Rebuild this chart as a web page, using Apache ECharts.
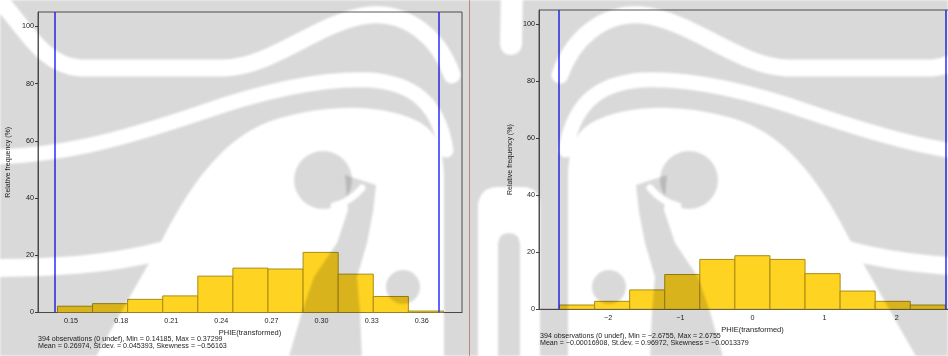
<!DOCTYPE html>
<html>
<head>
<meta charset="utf-8">
<script src="https://cdn.jsdelivr.net/npm/echarts@6/dist/echarts.min.js"></script>
<style>
  html, body { margin: 0; padding: 0; background: #ffffff; }
  #chart { width: 948px; height: 356px; }
</style>
</head>
<body>
<div id="chart"></div>
<script>
// Relative frequency (%) of each of the 11 histogram classes
const leftFreq = [2.2, 3.1, 4.6, 5.8, 12.7, 15.5, 15.2, 21.0, 13.4, 5.6, 0.5];
const rightFreq = [1.5, 2.8, 6.8, 12.2, 17.5, 18.8, 17.5, 12.5, 6.4, 2.8, 1.5];

// Summary statistics of the two variables
const leftMin = 0.14185, leftMax = 0.37299;
const rightMin = -2.6755, rightMax = 2.6755;

// Tick positions and labels
const leftTicks = [0.15, 0.18, 0.21, 0.24, 0.27, 0.30, 0.33, 0.36];
const leftTickLabels = ['0.15', '0.18', '0.21', '0.24', '0.27', '0.30', '0.33', '0.36'];
const rightTicks = [-2, -1, 0, 1, 2];
const rightTickLabels = ['\u22122', '\u22121', '0', '1', '2'];
const yTicks = [0, 20, 40, 60, 80, 100];

const leftStats = [
  '394 observations (0 undef), Min = 0.14185, Max = 0.37299',
  'Mean = 0.26974, St.dev. = 0.045393, Skewness = \u22120.56163'
];
const rightStats = [
  '394 observations (0 undef), Min = \u22122.6755, Max = 2.6755',
  'Mean = \u22120.00016908, St.dev. = 0.96972, Skewness = \u22120.0013379'
];

const xName = 'PHIE(transformed)';
const yName = 'Relative frequency (%)';

// Histogram classes: equal-width bins between the observed min and max
function bins(freq, lo, hi) {
  const w = (hi - lo) / freq.length;
  return freq.map((f, i) => [lo + i * w, lo + (i + 1) * w, f]);
}

const FONT = 'Liberation Sans, Arial, sans-serif';
const TEXT = '#1e1e1e';
const SHADE = 'rgba(0,0,0,0.15)';

// Symmetric background emblem, painted once into an offscreen canvas
function emblem() {
  const c = document.createElement('canvas');
  c.width = 948; c.height = 356;
  const g = c.getContext('2d');
  g.fillStyle = SHADE;
  g.fillRect(0, 0, 948, 356);
  g.lineCap = 'round';
  g.lineJoin = 'round';

  const stroke = (w, f) => { g.lineWidth = w; g.beginPath(); f(); g.stroke(); };
  const fill = (f) => { g.beginPath(); f(); g.closePath(); g.fill(); };
  const cut = () => { g.globalCompositeOperation = 'destination-out'; g.strokeStyle = '#000'; g.fillStyle = '#000'; };
  const shade = () => { g.globalCompositeOperation = 'source-over'; g.fillStyle = SHADE; };

  // one wing of the emblem; the other wing is its mirror image
  function wing() {
    cut();
    stroke(17, () => { g.moveTo(-8, -8); g.bezierCurveTo(25, 25, 40, 65, 80, 68); g.lineTo(225, 68);
      g.bezierCurveTo(275, 66, 320, 20, 370, 15); g.bezierCurveTo(410, 12, 440, 40, 452, 75); });
    stroke(15, () => { g.moveTo(-10, 157); g.bezierCurveTo(60, 156, 120, 140, 200, 113);
      g.bezierCurveTo(260, 92, 320, 78, 370, 80); g.bezierCurveTo(410, 83, 438, 100, 446, 150); });
    stroke(18, () => { g.moveTo(-10, 268); g.bezierCurveTo(50, 268, 110, 265, 165, 250); });
    fill(() => { g.moveTo(94, 360); g.lineTo(162, 240); g.bezierCurveTo(195, 175, 230, 132, 280, 118);
      g.bezierCurveTo(330, 104, 380, 104, 415, 120); g.bezierCurveTo(438, 130, 443, 150, 444, 175); g.lineTo(444, 360); });
    shade();
    fill(() => { g.arc(323, 180, 29, 0, Math.PI * 2); });
    fill(() => { g.moveTo(345, 175); g.lineTo(376, 185); g.lineTo(373, 212); g.lineTo(367, 243);
      g.lineTo(357, 277); g.lineTo(360, 312); g.lineTo(362, 360); g.lineTo(288, 360);
      g.lineTo(302, 312); g.lineTo(314, 277); g.lineTo(337, 243); g.lineTo(348, 210); });
    fill(() => { g.arc(403, 287, 17, 0, Math.PI * 2); });
    cut();
    stroke(7, () => { g.moveTo(334, 206); g.quadraticCurveTo(350, 202, 362, 188); });
  }

  g.save(); g.beginPath(); g.rect(0, 0, 474, 356); g.clip(); wing(); g.restore();
  g.save(); g.beginPath(); g.rect(540, 0, 408, 356); g.clip(); g.setTransform(-1, 0, 0, 1, 1012, 0); wing(); g.restore();

  // central column
  g.save(); g.beginPath(); g.rect(474, 0, 66, 356); g.clip();
  cut();
  stroke(22, () => { g.moveTo(512, -10); g.lineTo(511, 44); });
  fill(() => { g.moveTo(478, 360); g.lineTo(478, 205); g.quadraticCurveTo(480, 187, 498, 187);
    g.lineTo(522, 187); g.quadraticCurveTo(540, 187, 540, 205); g.lineTo(540, 360); });
  shade();
  fill(() => { g.moveTo(498, 360); g.lineTo(498, 244); g.quadraticCurveTo(499, 233, 509, 233);
    g.quadraticCurveTo(519, 233, 520, 244); g.lineTo(520, 360); });
  g.restore();

  const out = document.createElement('canvas');
  out.width = 948; out.height = 356;
  const o = out.getContext('2d');
  o.filter = 'blur(1.2px)';
  o.drawImage(c, 0, 0);
  return out;
}

function histSeries(idx, freq, lo, hi) {
  return {
    type: 'custom',
    xAxisIndex: idx, yAxisIndex: idx,
    clip: true,
    data: bins(freq, lo, hi),
    renderItem: (params, api) => {
      const a = api.coord([api.value(0), api.value(2)]);
      const b = api.coord([api.value(1), 0]);
      return {
        type: 'rect',
        shape: { x: a[0], y: a[1], width: b[0] - a[0], height: b[1] - a[1] },
        style: { fill: '#ffd322', stroke: '#a98c12', lineWidth: 1 }
      };
    },
    markLine: {
      silent: true, symbol: 'none', animation: false,
      label: { show: false },
      lineStyle: { color: '#3a3aff', width: 1.6, type: 'solid' },
      data: [{ xAxis: lo }, { xAxis: hi }]
    },
    animation: false
  };
}

function yAxis(idx, gap) {
  return {
    type: 'value', gridIndex: idx, min: 0, max: 105,
    name: yName, nameLocation: 'middle', nameGap: gap, nameRotate: 90,
    nameTextStyle: { fontFamily: FONT, fontSize: 7, color: TEXT },
    axisLine: { show: true, onZero: false, lineStyle: { color: '#555', width: 1 } },
    axisTick: { show: true, length: 3, customValues: yTicks, lineStyle: { color: '#444' } },
    axisLabel: { customValues: yTicks, fontFamily: FONT, fontSize: 7.2, color: TEXT, margin: 4 },
    splitLine: { show: false }
  };
}

function xAxis(idx, lo, hi, ticks, labels, gap) {
  return {
    type: 'value', gridIndex: idx, min: lo, max: hi,
    name: xName, nameLocation: 'middle', nameGap: gap,
    nameTextStyle: { fontFamily: FONT, fontSize: 7.5, color: TEXT },
    axisLine: { show: true, onZero: false, lineStyle: { color: '#555', width: 1 } },
    axisTick: { show: false },
    axisLabel: {
      customValues: ticks, fontFamily: FONT, fontSize: 7.2, color: TEXT, margin: 5,
      formatter: v => labels[ticks.findIndex(t => Math.abs(t - v) < 1e-9)]
    },
    splitLine: { show: false }
  };
}

function statText(x, y, lines) {
  return lines.map((s, i) => ({
    type: 'text', x: x, y: y + i * 7, silent: true,
    style: { text: s, fontFamily: FONT, fontSize: 7.1, fill: TEXT, verticalAlign: 'middle' }
  }));
}

const chart = echarts.init(document.getElementById('chart'), null, { renderer: 'canvas' });
chart.setOption({
  animation: false,
  backgroundColor: '#ffffff',
  grid: [
    { left: 38, top: 12, width: 424, height: 300.5, outerBoundsMode: 'none', containLabel: false,
      show: true, borderColor: '#5a5a5a', borderWidth: 1, backgroundColor: 'transparent' },
    { left: 539, top: 10, width: 427, height: 299.3, outerBoundsMode: 'none', containLabel: false,
      show: true, borderColor: '#5a5a5a', borderWidth: 1, backgroundColor: 'transparent' }
  ],
  xAxis: [
    xAxis(0, 0.1302, 0.3841, leftTicks, leftTickLabels, 11),
    xAxis(1, -2.96, 2.962, rightTicks, rightTickLabels, 11)
  ],
  yAxis: [yAxis(0, 26), yAxis(1, 25)],
  series: [
    histSeries(0, leftFreq, leftMin, leftMax),
    histSeries(1, rightFreq, rightMin, rightMax)
  ],
  graphic: [
    ...statText(38, 338.7, leftStats),
    ...statText(540, 335.7, rightStats),
    { type: 'line', silent: true, shape: { x1: 469.5, y1: 0, x2: 469.5, y2: 356 }, style: { stroke: '#e49a9a', lineWidth: 1 } },
    { type: 'image', silent: true, z: 100, style: { image: emblem(), x: 0, y: 0, width: 948, height: 356 } }
  ]
});
</script>
</body>
</html>
